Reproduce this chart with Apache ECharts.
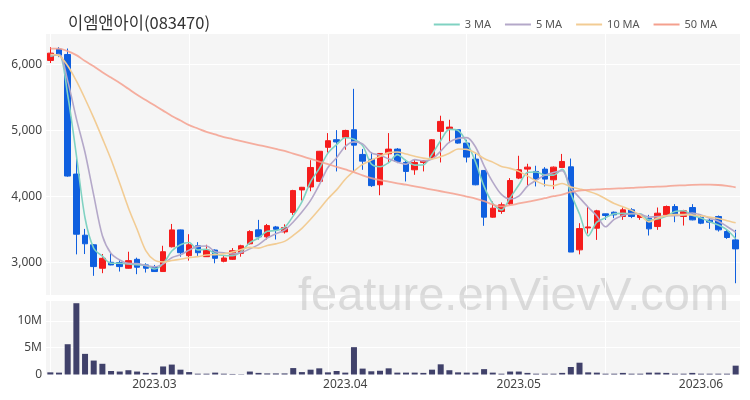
<!DOCTYPE html>
<html><head><meta charset="utf-8">
<script src="https://cdn.jsdelivr.net/npm/echarts@6/dist/echarts.min.js"></script>
<style>html,body{margin:0;padding:0;background:#fff}#c{width:750px;height:400px}</style>
</head><body><div id="c"></div>
<script>
const TITLE = '이엠앤아이(083470)';
const WATERMARK = 'feature.enVievV.com';
const dates = [
'2023-02-13','2023-02-14','2023-02-15','2023-02-16','2023-02-17','2023-02-20','2023-02-21','2023-02-22','2023-02-23','2023-02-24','2023-02-27','2023-02-28',
'2023-03-02','2023-03-03','2023-03-06','2023-03-07','2023-03-08','2023-03-09','2023-03-10','2023-03-13','2023-03-14','2023-03-15','2023-03-16','2023-03-17','2023-03-20','2023-03-21','2023-03-22','2023-03-23','2023-03-24','2023-03-27','2023-03-28','2023-03-29','2023-03-30','2023-03-31',
'2023-04-03','2023-04-04','2023-04-05','2023-04-06','2023-04-07','2023-04-10','2023-04-11','2023-04-12','2023-04-13','2023-04-14','2023-04-17','2023-04-18','2023-04-19','2023-04-20','2023-04-21','2023-04-24','2023-04-25','2023-04-26','2023-04-27','2023-04-28',
'2023-05-02','2023-05-03','2023-05-04','2023-05-08','2023-05-09','2023-05-10','2023-05-11','2023-05-12','2023-05-15','2023-05-16','2023-05-17','2023-05-18','2023-05-19','2023-05-22','2023-05-23','2023-05-24','2023-05-25','2023-05-26','2023-05-29','2023-05-30','2023-05-31',
'2023-06-01','2023-06-02','2023-06-05','2023-06-07','2023-06-08'
];
const opens = [6060,6230,6150,4340,3415,3270,2915,3005,3000,2915,3050,2965,2940,2865,3240,3495,3105,3255,3090,3190,3020,3050,3140,3285,3496,3390,3540,3465,3760,4100,4145,4230,4745,4860,4898,5011,4637,4563,4178,4647,4718,4516,4405,4516,4582,4986,5021,5011,4809,4567,4395,3688,3774,3890,4279,4415,4380,4415,4253,4440,4450,3193,3525,3521,3738,3763,3698,3799,3683,3672,3546,3723,3849,3698,3834,3683,3642,3698,3471,3344];
const closes = [6170,6140,4310,3430,3285,2940,3065,2965,2940,3030,2930,2915,2865,3165,3495,3150,3270,3150,3190,3065,3070,3180,3255,3470,3390,3560,3505,3530,4090,4140,4440,4685,4845,4826,5000,4778,4536,4165,4652,4718,4531,4380,4516,4546,4859,5137,5051,4809,4597,4178,3688,3824,3875,4243,4405,4445,4264,4264,4445,4531,3160,3515,3540,3784,3713,3723,3799,3698,3723,3511,3748,3849,3723,3784,3647,3597,3612,3496,3380,3208];
const lows = [6020,6110,4300,3125,3130,2800,2840,2960,2865,2910,2825,2850,2860,2860,3230,3090,3030,3100,3085,2990,3005,3040,3090,3275,3350,3350,3350,3440,3723,3940,4080,4220,4665,4380,4708,4380,4405,4145,4020,4506,4506,4228,4329,4380,4570,4516,4809,4800,4516,4170,3557,3680,3738,3875,4264,4163,4153,4153,4112,4440,3160,3125,3440,3344,3647,3673,3647,3673,3647,3410,3496,3698,3612,3561,3640,3582,3511,3470,3360,2688];
const highs = [6260,6260,6240,4590,3510,3280,3130,3150,3040,3165,3075,2990,2965,3255,3585,3500,3430,3310,3270,3200,3115,3220,3270,3490,3647,3585,3555,3580,4102,4145,4550,4690,4960,5005,5011,5630,4720,4670,4657,4960,4733,4557,4557,4546,4870,5223,5162,5015,4860,4647,4400,3925,3910,4279,4617,4496,4466,4445,4455,4645,4575,3597,3850,3799,3740,3773,3834,3824,3727,3723,3834,3864,3885,3799,3885,3733,3683,3713,3496,3496];
const volumes = [400000,350000,5650000,13300000,3850000,2600000,2000000,650000,550000,800000,550000,300000,300000,1500000,1850000,900000,450000,150000,150000,350000,150000,100000,60000,550000,300000,200000,200000,200000,1200000,450000,900000,1150000,400000,650000,350000,5100000,1100000,600000,700000,1150000,350000,350000,350000,300000,900000,1900000,800000,400000,350000,350000,1000000,350000,150000,550000,550000,300000,150000,150000,150000,300000,1400000,2200000,400000,350000,150000,150000,300000,150000,150000,350000,350000,300000,150000,150000,300000,150000,150000,150000,150000,1650000];
const ma3 = [6120,6150,5540,4627,3675,3218,3097,2990,2990,2978,2967,2958,2903,2982,3175,3270,3305,3190,3203,3135,3108,3105,3168,3302,3372,3473,3485,3532,3708,3920,4223,4422,4657,4785,4890,4868,4771,4493,4451,4512,4634,4543,4476,4481,4640,4847,5016,4999,4819,4528,4154,3897,3796,3981,4174,4364,4371,4324,4324,4413,4045,3735,3405,3613,3679,3740,3745,3740,3740,3644,3661,3703,3773,3785,3718,3676,3619,3568,3496,3361];
const ma5 = [6130,6150,5750,5180,4667,4021,3406,3137,3039,2988,2986,2956,2936,2981,3074,3118,3189,3246,3251,3165,3149,3131,3152,3208,3273,3371,3436,3491,3615,3765,3941,4177,4440,4587,4759,4827,4797,4661,4626,4570,4520,4489,4559,4538,4566,4688,4822,4880,4891,4754,4465,4219,4032,3962,4007,4158,4246,4324,4365,4390,4133,3983,3838,3706,3542,3655,3712,3743,3731,3691,3696,3706,3711,3723,3750,3720,3673,3627,3546,3459];
const ma10 = [6150,6130,5980,5750,5480,5190,4880,4560,4200,3828,3504,3181,3037,3010,3031,3052,3073,3091,3116,3120,3134,3160,3199,3230,3219,3260,3284,3322,3412,3519,3656,3807,3966,4101,4262,4384,4487,4551,4607,4665,4674,4643,4610,4582,4568,4604,4656,4720,4714,4660,4576,4521,4456,4426,4381,4312,4233,4178,4163,4198,4146,4115,4081,4035,3966,3894,3847,3791,3719,3617,3675,3709,3727,3727,3721,3708,3689,3669,3635,3604];
const ma50 = [6240,6240,6200,6140,6050,5970,5880,5800,5720,5630,5540,5460,5380,5300,5220,5150,5080,5030,4980,4940,4900,4870,4840,4810,4780,4750,4720,4690,4650,4610,4570,4530,4490,4450,4410,4370,4320,4280,4250,4225,4200,4180,4155,4130,4105,4080,4055,4030,4000,3970,3930,3880,3850,3870,3895,3920,3945,3975,4005,4030,4070,4090,4100,4110,4115,4120,4125,4130,4140,4145,4150,4155,4165,4170,4178,4180,4180,4175,4160,4140];

const UP = '#f51c1c', DOWN = '#0f5fdf';
const candleData = opens.map((o, i) => [o, closes[i], lows[i], highs[i]]);
const gridLineIdx = [0, 16, 32, 48, 64];
const vLines = gridLineIdx.map(i => ({ xAxis: i }));
const labelFont = 'Noto Sans, Roboto, sans-serif';

function maSeries(name, data, color, width, opacity) {
  return { name, type: 'line', xAxisIndex: 0, yAxisIndex: 0, data, symbol: 'none', smooth: 0.3,
    lineStyle: { color, width, opacity }, itemStyle: { color }, z: 3 };
}

const chart = echarts.init(document.getElementById('c'), null, { renderer: 'canvas' });
chart.setOption({
  animation: false,
  backgroundColor: '#ffffff',
  title: { text: TITLE, left: 63, top: 9,
    textStyle: { fontFamily: 'Noto Sans CJK KR, sans-serif', fontSize: 16.5, fontWeight: 'normal', color: '#333' } },
  legend: { data: ['3 MA', '5 MA', '10 MA', '50 MA'], right: 28, top: 14, icon: 'rect',
    itemWidth: 26, itemHeight: 2, itemGap: 14,
    textStyle: { fontSize: 11, color: '#555', fontFamily: labelFont } },
  graphic: [{ type: 'text', left: 298, top: 274, z: 1, silent: true,
    style: { text: WATERMARK, fontSize: 47, fontFamily: 'Liberation Sans, Arial, sans-serif', fill: 'rgba(190,190,190,0.5)' } }],
  grid: [
    { left: 46, top: 33, width: 694, height: 262, show: true, backgroundColor: '#f5f5f5', borderWidth: 0 },
    { left: 46, top: 300, width: 694, height: 74.5, show: true, backgroundColor: '#f5f5f5', borderWidth: 0 }
  ],
  xAxis: [
    { type: 'category', gridIndex: 0, data: dates, boundaryGap: true,
      axisLine: { show: false }, axisTick: { show: false }, axisLabel: { show: false }, splitLine: { show: false } },
    { type: 'category', gridIndex: 1, data: dates, boundaryGap: true,
      axisLine: { show: false }, axisTick: { show: false }, splitLine: { show: false },
      axisLabel: { color: '#444', fontSize: 12, margin: 4, fontFamily: labelFont,
        interval: (i, v) => i > 0 && v.slice(0, 7) !== dates[i - 1].slice(0, 7),
        formatter: v => v.slice(0, 4) + '.' + v.slice(5, 7) } }
  ],
  yAxis: [
    { type: 'value', gridIndex: 0, min: 2510, max: 6475,
      axisLine: { show: false }, axisTick: { show: false },
      splitLine: { lineStyle: { color: '#ffffff', width: 1 } },
      axisLabel: { color: '#444', fontSize: 12, margin: 4, fontFamily: labelFont,
        formatter: v => (v % 1000 === 0 ? v.toLocaleString('en-US') : '') } },
    { type: 'value', gridIndex: 1, min: 0, max: 13900000, interval: 5000000,
      axisLine: { show: false }, axisTick: { show: false },
      splitLine: { lineStyle: { color: '#ffffff', width: 1 } },
      axisLabel: { color: '#444', fontSize: 12, margin: 4, fontFamily: labelFont,
        formatter: v => (v === 0 ? '0' : (v % 5000000 === 0 ? (v / 1000000) + 'M' : '')) } }
  ],
  series: [
    { name: 'grid0', type: 'line', xAxisIndex: 0, yAxisIndex: 0, data: [], z: 1,
      markLine: { silent: true, symbol: 'none', z: 1, label: { show: false },
        lineStyle: { color: '#ffffff', width: 1, type: 'solid' }, data: vLines } },
    { name: 'grid1', type: 'line', xAxisIndex: 1, yAxisIndex: 1, data: [], z: 1,
      markLine: { silent: true, symbol: 'none', z: 1, label: { show: false },
        lineStyle: { color: '#ffffff', width: 1, type: 'solid' }, data: vLines } },
    { name: 'candle', type: 'candlestick', xAxisIndex: 0, yAxisIndex: 0, data: candleData, barWidth: 6, z: 2,
      itemStyle: { color: UP, color0: DOWN, borderColor: UP, borderColor0: DOWN, borderWidth: 1 } },
    maSeries('3 MA', ma3, '#80d2c2', 1.6, 1),
    maSeries('5 MA', ma5, '#b4a8c9', 1.6, 1),
    maSeries('10 MA', ma10, '#f2cc94', 1.6, 1),
    maSeries('50 MA', ma50, '#f4a08e', 1.8, 0.85),
    { name: 'volume', type: 'bar', xAxisIndex: 1, yAxisIndex: 1, data: volumes, barWidth: 6, z: 2,
      itemStyle: { color: '#40416a' } }
  ]
});
</script></body></html>
